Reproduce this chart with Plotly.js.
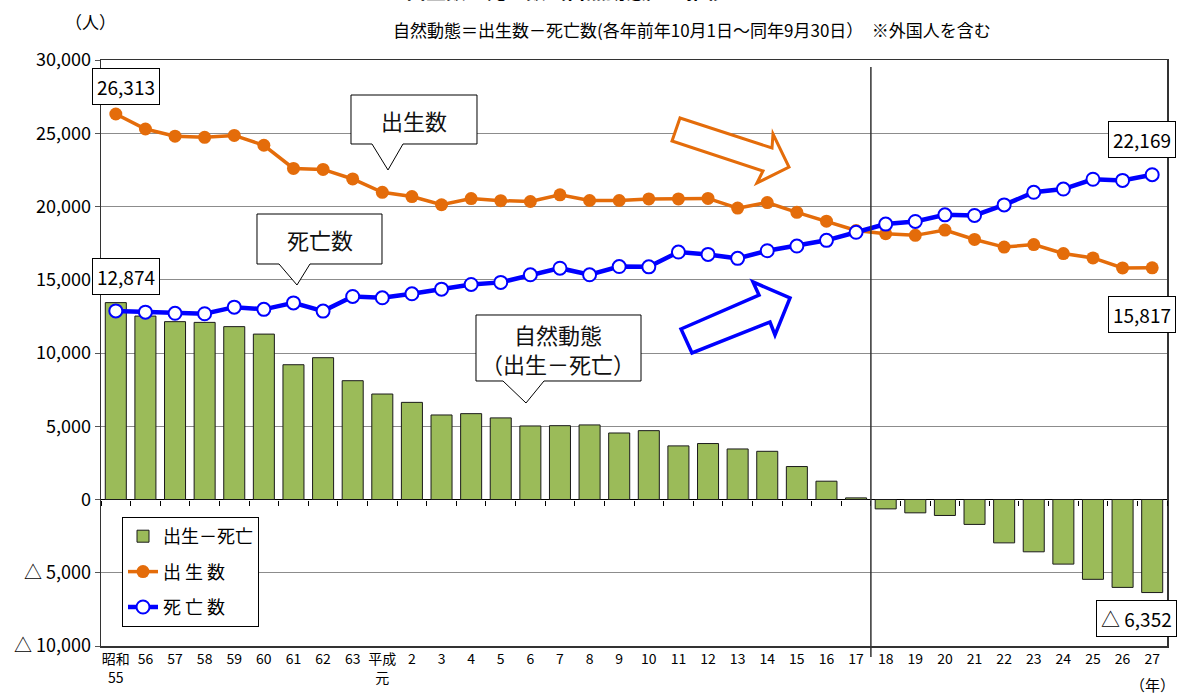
<!DOCTYPE html>
<html>
<head>
<meta charset="utf-8">
<script src="https://cdn.plot.ly/plotly-3.0.1.min.js"></script>
<style>html,body{margin:0;padding:0;background:#fff}</style>
</head>
<body>
<div id="chart" style="width:1179px;height:696px"></div>
<script>
// 年（昭和55年〜平成27年）
const years = ['昭和55','56','57','58','59','60','61','62','63','平成元',
  '2','3','4','5','6','7','8','9','10','11','12','13','14','15','16','17',
  '18','19','20','21','22','23','24','25','26','27'];
const yearLabels = ['昭和<br>55','56','57','58','59','60','61','62','63','平成<br>元',
  '2','3','4','5','6','7','8','9','10','11','12','13','14','15','16','17',
  '18','19','20','21','22','23','24','25','26','27'];

// 出生数（人）
const births = [26313, 25290, 24800, 24720, 24850, 24180, 22600, 22530, 21880, 20970,
  20680, 20120, 20540, 20400, 20340, 20800, 20410, 20410, 20520, 20520,
  20550, 19890, 20270, 19600, 19000, 18360, 18140, 18030, 18390, 17750,
  17230, 17400, 16790, 16490, 15810, 15817];

// 死亡数（人）
const deaths = [12874, 12790, 12710, 12680, 13130, 12980, 13420, 12860, 13860, 13770,
  14040, 14360, 14680, 14820, 15340, 15790, 15340, 15900, 15880, 16890,
  16730, 16460, 16980, 17300, 17690, 18240, 18800, 18980, 19430, 19390,
  20110, 20970, 21190, 21860, 21780, 22169];

// 自然動態＝出生数－死亡数（人）
const naturalChange = [13439, 12520, 12140, 12090, 11800, 11290, 9200, 9680, 8110, 7200,
  6630, 5770, 5860, 5570, 5020, 5040, 5090, 4540, 4700, 3660,
  3820, 3450, 3290, 2250, 1250, 110, -640, -910, -1090, -1700,
  -2960, -3570, -4410, -5450, -6000, -6352];

const yTickVals = [-10000, -5000, 0, 5000, 10000, 15000, 20000, 25000, 30000];
const yTickText = ['△ 10,000', '△ 5,000', '0', '5,000', '10,000', '15,000', '20,000', '25,000', '30,000'];

// ---- layout helpers ----
const W = 1179, H = 696;
const M = {l: 101, r: 12, t: 60, b: 50};
const PW = W - M.l - M.r, PH = H - M.t - M.b;
const px = x => (x - M.l) / PW;          // page pixel -> paper x
const py = y => (H - M.b - y) / PH;      // page pixel -> paper y
const polyPath = pts => 'M' + pts.map(p => px(p[0]).toFixed(5) + ',' + py(p[1]).toFixed(5)).join(' L') + ' Z';

const FONT = '"Noto Sans CJK JP", "Noto Sans", sans-serif';
const ORANGE = '#E46C0A', BLUE = '#0000FF', GREEN = '#9BBB59';

const fmt = v => (v < 0 ? '△ ' : '') + Math.abs(v).toLocaleString('en-US');
const last = years.length - 1;

const traces = [
  {
    type: 'bar', x: years, y: naturalChange, name: '出生－死亡',
    legendgroup: 'a',
    marker: {color: GREEN, line: {color: '#1a1a1a', width: 1}},
    hoverinfo: 'skip'
  },
  {
    type: 'scatter', mode: 'lines+markers', x: years, y: births, name: '出 生 数',
    xaxis: 'x2', legendgroup: 'b',
    line: {color: ORANGE, width: 3.5},
    marker: {size: 13, color: ORANGE, line: {width: 0}},
    hoverinfo: 'skip'
  },
  {
    type: 'scatter', mode: 'lines+markers', x: years, y: deaths, name: '死 亡 数',
    xaxis: 'x2', legendgroup: 'c',
    line: {color: BLUE, width: 4.5},
    marker: {size: 13, color: '#ffffff', line: {color: BLUE, width: 2}},
    hoverinfo: 'skip'
  }
];

// 値ラベル（枠付き）
const boxLabel = (xi, v, dx, dy) => ({
  x: xi, y: v, xref: 'x2', yref: 'y', text: fmt(v), showarrow: false,
  xanchor: 'center', yanchor: 'middle',
  xshift: dx, yshift: dy, bgcolor: '#fff', bordercolor: '#000', borderwidth: 1, borderpad: 4,
  font: {family: FONT, size: 19, color: '#000'}
});

// 紙面座標のテキスト
const note = (x, y, text, size, extra) => Object.assign({
  xref: 'paper', yref: 'paper', x: px(x), y: py(y), text: text, showarrow: false,
  xanchor: 'center', yanchor: 'middle',
  font: {family: FONT, size: size, color: '#000'}
}, extra || {});
const calloutText = (x, y, text) => note(x, y, text, 22, {font: {family: FONT, size: 22, color: '#111'}});

// 吹き出し
const callout = (x0, y0, x1, y1, b0, b1, tip) =>
  polyPath([[x0, y0], [x1, y0], [x1, y1], [b1, y1], tip, [b0, y1], [x0, y1]]);

const dividerX = years.indexOf('18') - 0.5;

const shapes = [
  {type: 'line', xref: 'x', yref: 'paper', x0: dividerX, x1: dividerX, y0: py(657), y1: py(67),
   line: {color: '#333', width: 1.5}, layer: 'above'},
  {type: 'path', xref: 'paper', yref: 'paper', layer: 'above',
   path: callout(351, 95, 477, 144, 372, 403, [388, 170]),
   fillcolor: '#fff', line: {color: '#000', width: 1}},
  {type: 'path', xref: 'paper', yref: 'paper', layer: 'above',
   path: callout(257, 214, 382, 264, 279, 310, [297, 285]),
   fillcolor: '#fff', line: {color: '#000', width: 1}},
  {type: 'path', xref: 'paper', yref: 'paper', layer: 'above',
   path: callout(476, 315, 641, 381, 503, 544, [526, 403]),
   fillcolor: '#fff', line: {color: '#000', width: 1}},
  // 減少傾向の矢印（出生数）
  {type: 'path', xref: 'paper', yref: 'paper', layer: 'above',
   path: polyPath([[680, 118], [772, 148], [773, 134], [789, 167], [757, 183], [763, 171], [672, 141]]),
   fillcolor: '#fff', line: {color: ORANGE, width: 3}},
  // 増加傾向の矢印（死亡数）
  {type: 'path', xref: 'paper', yref: 'paper', layer: 'above',
   path: polyPath([[681, 329], [759, 295], [753, 282], [790, 298], [775, 335], [770, 322], [692, 353]]),
   fillcolor: '#fff', line: {color: BLUE, width: 3.5}}
];

const annotations = [
  boxLabel(0, births[0], 10, 28),
  boxLabel(0, deaths[0], 10, 34),
  boxLabel(last, deaths[last], -10, 35),
  boxLabel(last, births[last], -10, -47),
  boxLabel(last, naturalChange[last], -16, -26),
  calloutText(414, 120, '出生数'),
  calloutText(320, 239, '死亡数'),
  calloutText(558, 334, '自然動態'),
  calloutText(558, 363, '（出生－死亡）'),
  note(566, 7, '<b>出生数・死亡数（自然動態）の推移</b>', 20, {yanchor: 'bottom'}),
  note(692, 30, '自然動態＝出生数－死亡数(各年前年10月1日～同年9月30日）　※外国人を含む', 17),
  note(90, 22, '（人）', 17),
  note(1152, 684, '（年）', 15)
];

const layout = {
  width: W, height: H, margin: M,
  paper_bgcolor: '#fff', plot_bgcolor: '#fff',
  font: {family: FONT, color: '#000'},
  showlegend: true,
  bargap: 0.29,
  xaxis: {
    type: 'category', categoryarray: years, range: [-0.5, years.length - 0.5],
    tickvals: years, ticktext: yearLabels, tickfont: {size: 14}, ticks: '',
    showgrid: false, zeroline: false, showline: true, linecolor: '#333', linewidth: 1.5, mirror: true,
    fixedrange: true
  },
  xaxis2: {
    type: 'category', categoryarray: years, range: [-0.5, years.length - 0.5],
    overlaying: 'x', anchor: 'free', position: 0.25,
    ticks: 'outside', tickson: 'boundaries', ticklen: 5, tickcolor: '#000', tickwidth: 1,
    showticklabels: false, showgrid: false, showline: false, zeroline: false, fixedrange: true
  },
  yaxis: {
    range: [-10000, 30000], tickvals: yTickVals, ticktext: yTickText,
    tickfont: {size: 18}, ticks: 'outside', ticklen: 5, tickcolor: '#555',
    showgrid: true, gridcolor: '#8c8c8c', gridwidth: 1,
    zeroline: true, zerolinecolor: '#000', zerolinewidth: 1.5,
    showline: true, linecolor: '#333', linewidth: 1.5, mirror: true, fixedrange: true
  },
  legend: {
    x: px(122), y: py(517), xanchor: 'left', yanchor: 'top',
    bgcolor: '#fff', bordercolor: '#000', borderwidth: 1,
    font: {family: FONT, size: 18, color: '#000'},
    traceorder: 'grouped', tracegroupgap: 9, itemwidth: 30
  },
  shapes: shapes,
  annotations: annotations
};

Plotly.newPlot('chart', traces, layout, {displayModeBar: false, staticPlot: true});
</script>
</body>
</html>
